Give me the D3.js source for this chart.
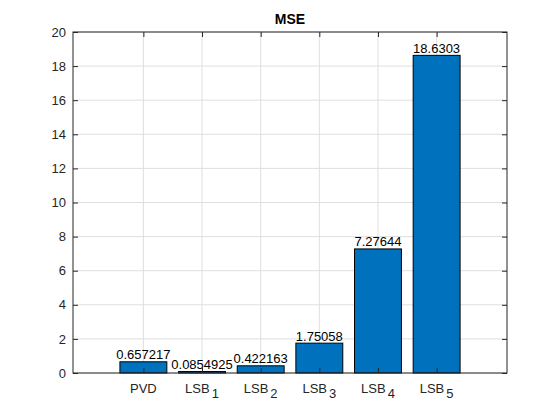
<!DOCTYPE html>
<html>
<head>
<meta charset="utf-8">
<script src="https://cdn.jsdelivr.net/npm/d3@7"></script>
<style>
  body { margin: 0; background: #fff; }
  text { font-family: "Liberation Sans", Arial, sans-serif; }
</style>
</head>
<body>
<div id="chart"></div>
<script>
// Chart data
var names = ["PVD", "LSB", "LSB", "LSB", "LSB", "LSB"];
var subs = ["", "1", "2", "3", "4", "5"];
var values = [0.657217, 0.0854925, 0.422163, 1.75058, 7.27644, 18.6303];
var valueLabels = ["0.657217", "0.0854925", "0.422163", "1.75058", "7.27644", "18.6303"];
var yTicks = [0, 2, 4, 6, 8, 10, 12, 14, 16, 18, 20];

var svgWidth = 560;
var svgHeight = 420;
var margin = { top: 32, right: 53, bottom: 47, left: 73 };
var width = svgWidth - margin.left - margin.right;
var height = svgHeight - margin.top - margin.bottom;

var svg = d3.select("#chart")
  .append("svg")
  .attr("width", svgWidth)
  .attr("height", svgHeight);

var chart = svg.append("g")
  .attr("transform", `translate(${margin.left}, ${margin.top})`);

// scales (categories sit at 1..6)
var x = d3.scaleLinear().domain([-0.2, 7.2]).range([0, width]);
var y = d3.scaleLinear().domain([0, 20]).range([height, 0]);
var barW = x(0.8) - x(0);
var idx = values.map((d, i) => i + 1);

// grid
chart.append("g")
  .selectAll("line.gy")
  .data(yTicks)
  .enter()
  .append("line")
  .attr("x1", 0).attr("x2", width)
  .attr("y1", d => y(d)).attr("y2", d => y(d))
  .attr("stroke", "#dfdfdf");

chart.append("g")
  .selectAll("line.gx")
  .data(idx)
  .enter()
  .append("line")
  .attr("x1", d => x(d)).attr("x2", d => x(d))
  .attr("y1", 0).attr("y2", height)
  .attr("stroke", "#dfdfdf");

// bars
chart.selectAll("rect.bar")
  .data(values)
  .enter()
  .append("rect")
  .attr("x", (d, i) => x(i + 1) - barW / 2)
  .attr("y", d => y(d))
  .attr("width", barW)
  .attr("height", d => height - y(d))
  .attr("fill", "#0072BD")
  .attr("stroke", "#000")
  .attr("stroke-width", 1);

// value labels
chart.selectAll("text.val")
  .data(values)
  .enter()
  .append("text")
  .attr("x", (d, i) => x(i + 1))
  .attr("y", d => y(d) - 2.5)
  .attr("text-anchor", "middle")
  .style("font-size", "13px")
  .attr("fill", "#000")
  .text((d, i) => valueLabels[i]);

// axes
var leftAxis = d3.axisLeft(y).tickValues(yTicks).tickSize(-5).tickPadding(7);
var gy = chart.append("g").call(leftAxis);
gy.selectAll("text").style("font-size", "13px").attr("fill", "#262626");
gy.selectAll("line").attr("stroke", "#262626");
gy.select(".domain").remove();

var rightAxis = d3.axisRight(y).tickValues(yTicks).tickSize(-5).tickFormat("");
var gr = chart.append("g").attr("transform", `translate(${width},0)`).call(rightAxis);
gr.selectAll("line").attr("stroke", "#262626");
gr.select(".domain").remove();

var bottomAxis = d3.axisBottom(x).tickValues(idx).tickSize(-5).tickFormat("");
var gb = chart.append("g").attr("transform", `translate(0, ${height})`).call(bottomAxis);
gb.selectAll("line").attr("stroke", "#262626");
gb.select(".domain").remove();

var topAxis = d3.axisTop(x).tickValues(idx).tickSize(-5).tickFormat("");
var gt = chart.append("g").call(topAxis);
gt.selectAll("line").attr("stroke", "#262626");
gt.select(".domain").remove();

// tick labels with subscripts
var lbl = chart.append("g")
  .selectAll("text")
  .data(idx)
  .enter()
  .append("text")
  .attr("x", d => x(d))
  .attr("y", height + 20)
  .attr("text-anchor", "middle")
  .style("font-size", "13px")
  .attr("fill", "#262626");
lbl.append("tspan").text((d, i) => names[i]);
lbl.append("tspan")
  .attr("dx", 2)
  .attr("dy", 5)
  .text((d, i) => subs[i]);

// box
chart.append("rect")
  .attr("width", width)
  .attr("height", height)
  .attr("fill", "none")
  .attr("stroke", "#262626")
  .attr("stroke-width", 1);

// title
svg.append("text")
  .attr("x", margin.left + width / 2)
  .attr("y", 24)
  .attr("text-anchor", "middle")
  .style("font-size", "14px")
  .style("font-weight", "bold")
  .attr("fill", "#000")
  .text("MSE");
</script>
</body>
</html>
